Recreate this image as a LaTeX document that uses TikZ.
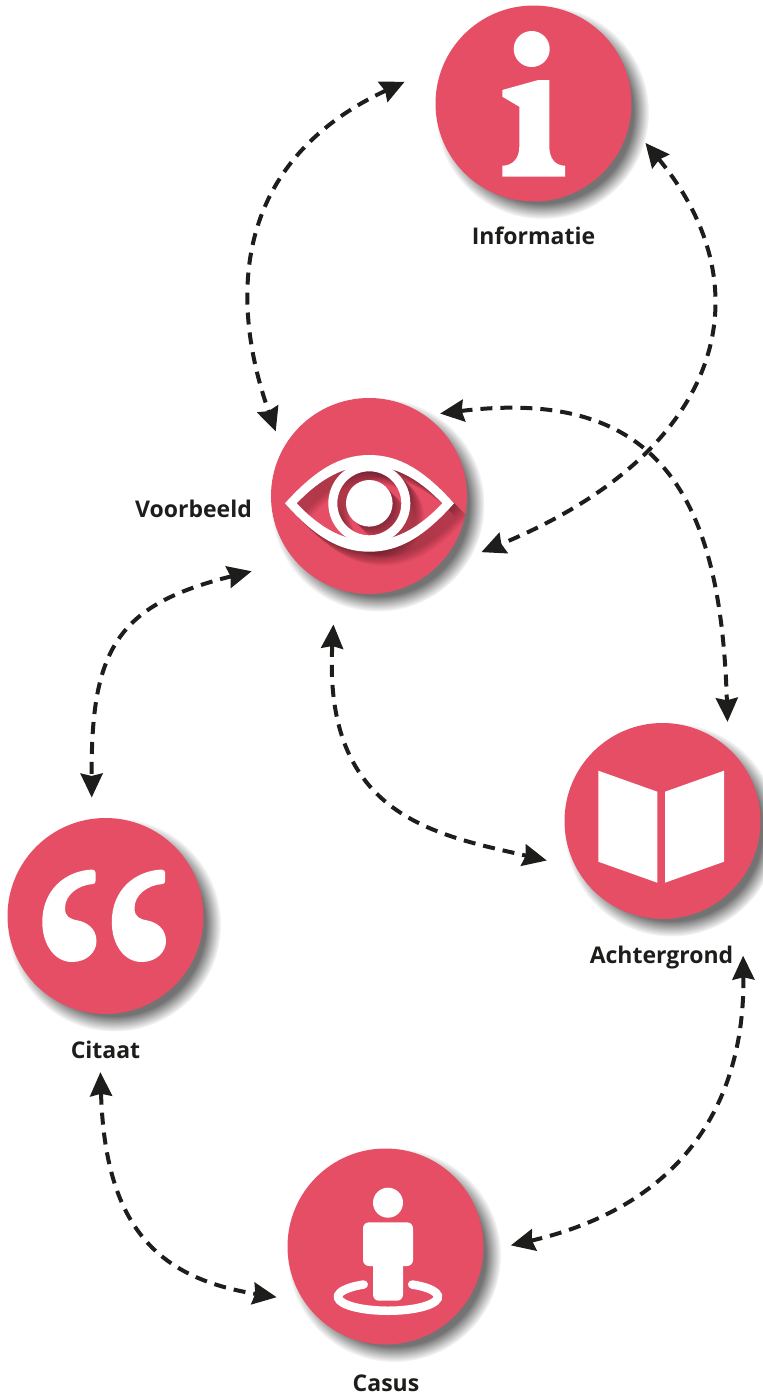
\documentclass[tikz,border=0pt]{standalone}
\usepackage{fontspec}
\setmainfont{Open Sans}
\usetikzlibrary{arrows.meta, shadows}

\definecolor{rosered}{HTML}{E54E64}
\definecolor{inkdark}{HTML}{1D1D1B}
\definecolor{eyeshade}{HTML}{3A1420}

\newcommand{\eyeicon}[1]{
\fill[#1,even odd rule]
    (285,503.3) .. controls (315,470) and (340,455) .. (369.3,455)
    .. controls (399,455) and (424,470) .. (454,503.3)
    .. controls (424,537) and (399,551.7) .. (369.3,551.7)
    .. controls (340,551.7) and (315,537) .. (285,503.3) -- cycle
    (296.7,503.3) .. controls (322,477) and (345,466) .. (369.3,466)
    .. controls (394,466) and (417,477) .. (442.3,503.3)
    .. controls (417,530) and (394,540.7) .. (369.3,540.7)
    .. controls (345,540.7) and (322,530) .. (296.7,503.3) -- cycle;
\fill[#1,even odd rule] (369.3,503.3) circle [radius=41] (369.3,503.3) circle [radius=32];
\fill[#1] (369.3,503.3) circle [radius=23.3];
}

\begin{document}
\begin{tikzpicture}[x=0.5pt,y=-0.5pt,
disc/.style={circle,fill=rosered,minimum size=98pt,inner sep=0pt,
    circular drop shadow={shadow xshift=4pt,shadow yshift=-4pt,shadow scale=1.09,fill=black!55,opacity=1}},
caption/.style={anchor=base,font=\bfseries\fontsize{11.5}{14}\selectfont,text=inkdark,inner sep=0pt},
link/.style={{Stealth[length=12pt,width=11pt,inset=1.2pt]}-{Stealth[length=12pt,width=11pt,inset=1.2pt]},
    line width=2pt,draw=inkdark,dash pattern=on 6pt off 4pt}]
\useasboundingbox (0,0) rectangle (762,1398);

\node[disc] (info) at (533.5,103.5) {};
\node[disc] (view) at (369,496) {};
\node[disc] (book) at (662.5,821) {};
\node[disc] (quote) at (105.5,916) {};
\node[disc] (case) at (385.5,1246.5) {};

\node[caption] (infotext) at (533.5,244.5) {Informatie};
\node[caption] (viewtext) at (193.5,517) {Voorbeeld};
\node[caption] (booktext) at (661.5,963) {Achtergrond};
\node[caption] (quotetext) at (105.5,1058) {Citaat};
\node[caption] (casetext) at (386,1391) {Casus};

% i
\fill[white] (531.7,49) circle [radius=18];
\fill[white] (549.3,80) -- (538.3,80) -- (502.3,90) -- (502.3,96.7) -- (519.3,106.7) -- (519.3,146.7)
    .. controls (519.3,158) and (513,165.7) .. (502.3,165.7) -- (502.3,176.7) -- (565,176.7) -- (565,165.7)
    .. controls (555,165.7) and (549.3,158) .. (549.3,146.7) -- cycle;

% eye
\begin{scope}
\clip (369,496) circle [radius=98];
\foreach \s in {1,...,28}
    {\eyeicon{eyeshade,opacity=0.025,shift={(0.5*\s,0.5*\s)}}}
\end{scope}
\eyeicon{white}

% book
\fill[white] (598.3,770.7) -- (657.3,791.7) -- (657.3,882.7) -- (598.3,861.7) -- cycle;
\fill[white] (665,791.7) -- (724,770.7) -- (724,861.7) -- (665,882.7) -- cycle;

% quotes
\foreach \s in {0,69.5}
    \fill[white,shift={(\s,0)}] (92,869.5) .. controls (65,871) and (42.3,890) .. (42.3,922)
    .. controls (42.3,945) and (55,962) .. (72,962) .. controls (87,962) and (96.5,952) .. (96.5,941)
    .. controls (96.5,928) and (86,922) .. (78,920.5) .. controls (70,919) and (65,917) .. (65,908)
    .. controls (65,895) and (78,885) .. (93,884) .. controls (95,884) and (95.7,882.5) .. (95.7,880)
    -- (95.7,873) .. controls (95.7,871) and (94,869.5) .. (92,869.5) -- cycle;

% person
\fill[white] (388,1202.7) circle [radius=15];
\fill[white,rounded corners=3pt] (363,1222.3) rectangle (413,1266);
\fill[white,rounded corners=3pt] (373,1250) rectangle (403,1300.7);
\draw[white,line width=4.25pt,line cap=round] (412.2,1284.5) arc [start angle=-61,end angle=241,x radius=50,y radius=14];

\draw[link,shorten <=21.5pt,shorten >=9.7pt] (info.156) .. controls (195,180) and (251,361) .. (view.152);
\draw[link,shorten <=12.3pt,shorten >=28pt] (info.-12) .. controls (767,290) and (724,452) .. (view.-52);
\draw[link,shorten <=7.4pt,shorten >=13pt] (view.55) .. controls (670,385) and (721,512) .. (book.48);
\draw[link,shorten <=22.2pt,shorten >=10.5pt] (view.221) .. controls (116,605) and (91,650) .. (quote.98);
\draw[link,shorten <=18pt,shorten >=14.8pt] (view.250) .. controls (323,817) and (437,835) .. (book.208);
\draw[link,shorten <=29pt,shorten >=13.8pt] (quote.266) .. controls (105,1225) and (156,1278) .. (case.214);
\draw[link,shorten <=38.4pt,shorten >=13.9pt] (book.-36) .. controls (745,1100) and (685,1205) .. (case.-3.5);

\end{tikzpicture}
\end{document}
